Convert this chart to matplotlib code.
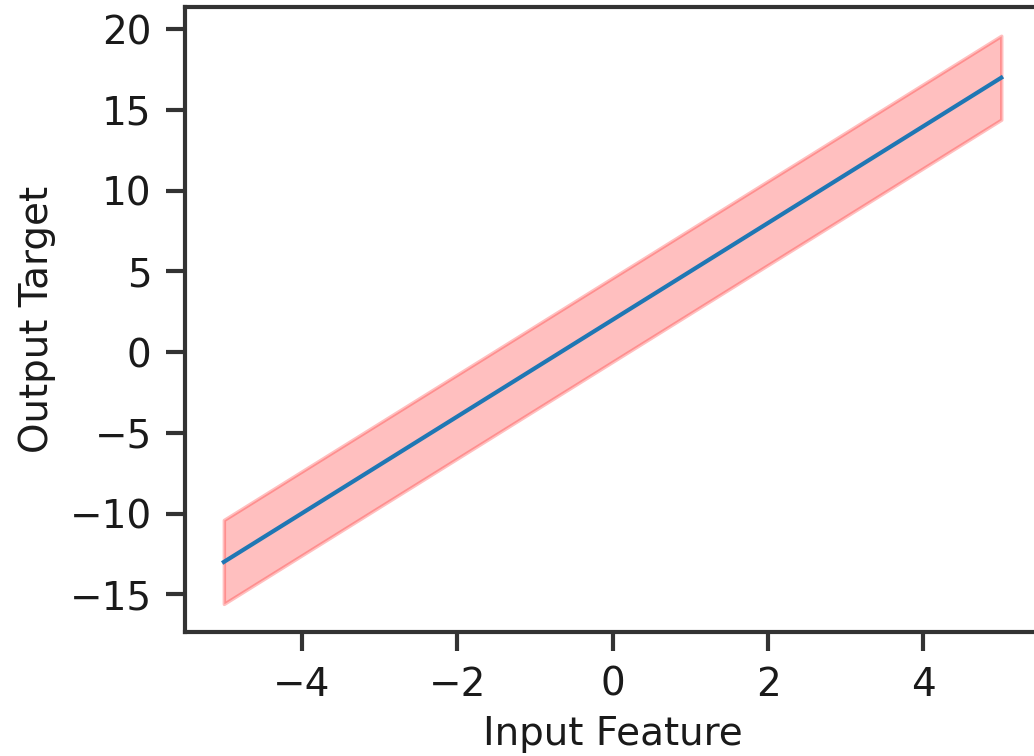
import numpy as np
import matplotlib
matplotlib.use("Agg")
import matplotlib.pyplot as plt

# values
x_vals = [-5.0, 0.0, 5.0]
y_pred = [-13.0, 2.0, 17.0]
y_lower = [-15.6, -0.6, 14.4]
y_upper = [-10.4, 4.6, 19.6]
x_ticks = [-4, -2, 0, 2, 4]
y_ticks = [-15, -10, -5, 0, 5, 10, 15, 20]

plt.rcParams['font.size'] = 28
plt.rcParams['axes.linewidth'] = 3.0

fig = plt.figure(figsize=(10.34, 7.56), dpi=100)
ax = fig.add_axes([0.1789, 0.1636, 0.827, 0.8267])

ax.fill_between(x_vals, y_lower, y_upper, color='red', alpha=0.25, linewidth=2.5)
ax.plot(x_vals, y_pred, color='#1f77b4', linewidth=3.0)

ax.set_xticks(x_ticks)
ax.set_yticks(y_ticks)
ax.set_xticklabels(['\u2212' + str(-t) if t < 0 else str(t) for t in x_ticks])
ax.set_yticklabels(['\u2212' + str(-t) if t < 0 else str(t) for t in y_ticks])
ax.tick_params(length=14, width=3, color='#333333', labelcolor='#1a1a1a', pad=10)
for s in ax.spines.values():
    s.set_color('#333333')

ax.set_xlabel('Input Feature', color='#1a1a1a', labelpad=8)
ax.set_ylabel('Output Target', color='#1a1a1a', labelpad=10)

fig.savefig('out.png', dpi=100)
